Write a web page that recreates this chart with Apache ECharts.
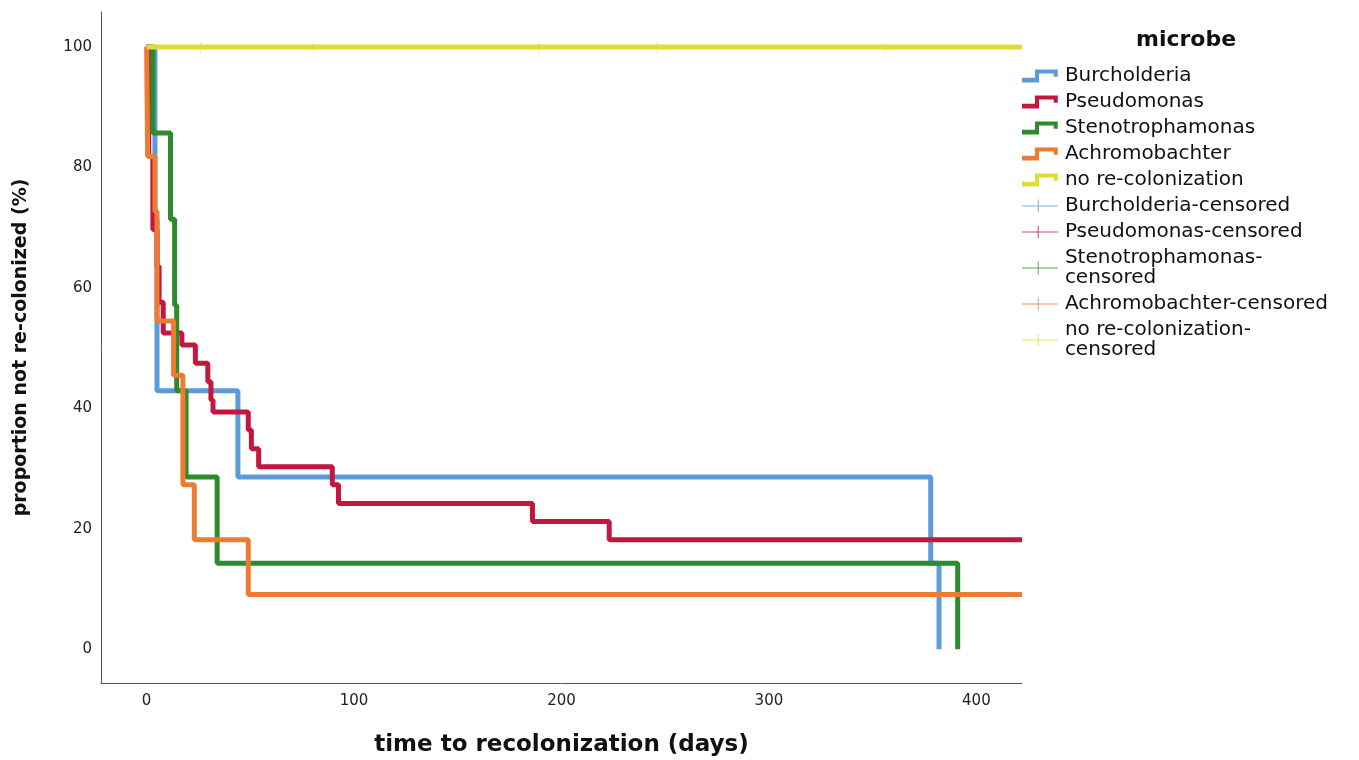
<!DOCTYPE html>
<html>
<head>
<meta charset="utf-8">
<script src="https://cdn.jsdelivr.net/npm/echarts@6/dist/echarts.min.js"></script>
<style>
  html, body { margin: 0; padding: 0; background: #fff; }
  #chart { width: 1359px; height: 760px; }
</style>
</head>
<body>
<div id="chart"></div>
<script>
(function() {
    // survival data (days, % not re-colonized)
    var burchT = [0, 4, 5, 44, 378, 382];
    var burchV = [100, 71.4, 42.9, 28.6, 14.3, 0];
    var pseudoT = [0, 1, 3, 5, 6, 8, 17, 23.5, 29.5, 31, 32, 49, 50.5, 54, 89.5, 92.5, 186, 223, 422];
    var pseudoV = [100, 81.8, 69.7, 63.6, 57.6, 52.5, 50.5, 47.5, 44.4, 41.4, 39.4, 36.4, 33.3, 30.3, 27.3, 24.2, 21.2, 18.2, 18.2];
    var stenoT = [0, 3, 11.5, 13.5, 14.5, 19, 34, 391];
    var stenoV = [100, 85.7, 71.4, 57.1, 42.9, 28.6, 14.3, 0];
    var achroT = [0, 0.5, 4, 5, 13, 17.5, 23, 49, 422];
    var achroV = [100, 81.8, 72.7, 54.5, 45.5, 27.3, 18.2, 9.1, 9.1];
    var noneT = [0, 422];
    var noneV = [100, 100];
    var noneCensT = [26, 80.5, 189, 246, 356];
    var noneCensV = [100, 100, 100, 100, 100];

    var xTicks = [0, 100, 200, 300, 400];
    var yTicks = [0, 20, 40, 60, 80, 100];

    var names = ["Burcholderia", "Pseudomonas", "Stenotrophamonas", "Achromobachter", "no re-colonization"];
    var colors = ["#5b9bd8", "#c4173d", "#2e8a2e", "#ee7b32", "#e2db34"];
    var times = [burchT, pseudoT, stenoT, achroT, noneT];
    var values = [burchV, pseudoV, stenoV, achroV, noneV];
    var censT = [[], [], [], [], noneCensT];
    var censV = [[], [], [], [], noneCensV];

    function pairs(t, v) {
      var out = [];
      for (var i = 0; i < t.length; i++) out.push([t[i], v[i]]);
      return out;
    }

    var stepIcon = "path://M0,10 L16,10 L16,0 L44,0 L44,9 L39,9 L39,5 L21,5 L21,16 L0,16 Z";
    var plusIcon = "path://M0,7.4 L44,7.4 L44,8.6 L0,8.6 Z M19.4,0 L20.6,0 L20.6,16 L19.4,16 Z";
    var plusMark = "path://M0,9.4 L20,9.4 L20,10.6 L0,10.6 Z M9.4,0 L10.6,0 L10.6,20 L9.4,20 Z";

    var series = [];
    var legendData = [];
    names.forEach(function(n, i) {
      series.push({
        name: n,
        type: "line",
        step: "end",
        data: pairs(times[i], values[i]),
        showSymbol: false,
        symbol: "none",
        lineStyle: { color: colors[i], width: 5 },
        itemStyle: { color: colors[i] },
        z: 2 + i
      });
      legendData.push({ name: n, icon: stepIcon, itemStyle: { color: colors[i], borderWidth: 0 } });
    });
    names.forEach(function(n, i) {
      series.push({
        name: n + "-censored",
        type: "scatter",
        data: pairs(censT[i], censV[i]),
        symbol: plusMark,
        symbolSize: 11,
        itemStyle: { color: colors[i] },
        z: 10
      });
      legendData.push({ name: n + "-censored", icon: plusIcon });
    });

    var myChart = echarts.init(document.getElementById("chart"));
    var option = {
      backgroundColor: "#fff",
      animation: false,
      title: {
        text: "microbe",
        left: 1136,
        top: 29,
        padding: 0,
        textStyle: { fontFamily: "DejaVu Sans", fontSize: 22, fontWeight: "bold", color: "#111" }
      },
      legend: {
        orient: "vertical",
        left: 1022,
        top: 66,
        padding: 0,
        itemGap: 6,
        itemWidth: 44,
        itemHeight: 13,
        data: legendData,
        formatter: function(name) {
          if (name === "Stenotrophamonas-censored") return "Stenotrophamonas-\ncensored";
          if (name === "no re-colonization-censored") return "no re-colonization-\ncensored";
          return name;
        },
        textStyle: { fontFamily: "DejaVu Sans", fontSize: 20, lineHeight: 20, color: "#111", padding: [0, 0, 0, -2] }
      },
      grid: { left: 101, right: 337, top: 12, bottom: 77, outerBoundsMode: "none" },
      xAxis: {
        type: "value",
        min: -22,
        max: 422,
        name: "time to recolonization (days)",
        nameLocation: "middle",
        nameGap: 51,
        nameTextStyle: { fontFamily: "DejaVu Sans", fontSize: 23, fontWeight: "bold", color: "#111" },
        axisLine: { show: true, onZero: false, lineStyle: { color: "#555", width: 1 } },
        axisTick: { show: false },
        splitLine: { show: false },
        axisLabel: { customValues: xTicks, margin: 11, fontFamily: "DejaVu Sans", fontSize: 15, color: "#222" }
      },
      yAxis: {
        type: "value",
        min: -5.6,
        max: 105.8,
        name: "proportion not re-colonized (%)",
        nameLocation: "middle",
        nameGap: 70,
        nameTextStyle: { fontFamily: "DejaVu Sans", fontSize: 19, fontWeight: "bold", color: "#111" },
        axisLine: { show: true, onZero: false, lineStyle: { color: "#555", width: 1 } },
        axisTick: { show: false },
        splitLine: { show: false },
        axisLabel: { customValues: yTicks, margin: 9, fontFamily: "DejaVu Sans", fontSize: 15, color: "#222" }
      },
      series: series
    };
    myChart.setOption(option);
    window.addEventListener("resize", function() {
      myChart.resize();
    });
  })();
</script>
</body>
</html>
